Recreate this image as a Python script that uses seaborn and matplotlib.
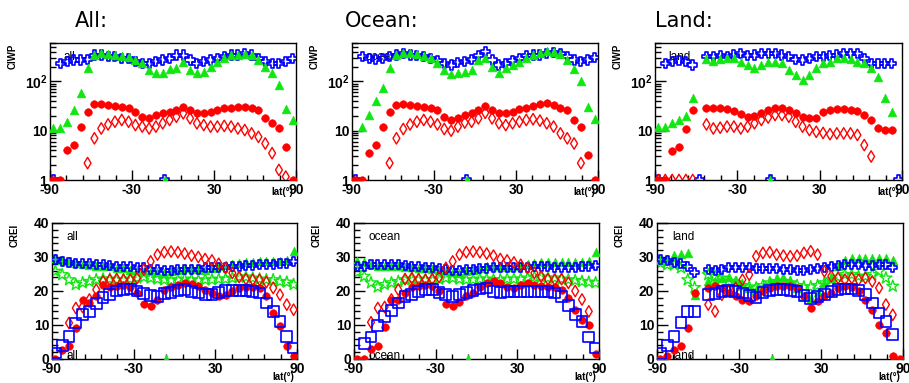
import numpy as np
import pandas as pd
import matplotlib
matplotlib.use("Agg")
import matplotlib.pyplot as plt
import seaborn as sns
from matplotlib.ticker import FixedLocator, MultipleLocator, LogLocator, NullFormatter, FixedFormatter

NA = np.nan

# latitude bin centres (degrees)
LAT = [-87.5, -82.5, -77.5, -72.5, -67.5, -62.5, -57.5, -52.5, -47.5, -42.5,
       -37.5, -32.5, -27.5, -22.5, -17.5, -12.5, -7.5, -2.5, 2.5, 7.5,
       12.5, 17.5, 22.5, 27.5, 32.5, 37.5, 42.5, 47.5, 52.5, 57.5,
       62.5, 67.5, 72.5, 77.5, 82.5, 87.5]

PANEL_TITLES = ["All:", "Ocean:", "Land:"]
PANEL_TAGS = ["all", "ocean", "land"]
X_TICKS = [-90, -30, 30, 90]
CIWP_TICKS = [1, 10, 100]
CIWP_TICK_LABELS = ["1", "10", r"$\mathbf{10^{2}}$"]
CREI_TICKS = [0, 10, 20, 30, 40]
FLOOR_GREEN_LAT = [-6.0]

# ---------------- CIWP (top row, log scale) ----------------
all_ciwp_cross = [1, 232, 251, 271, 271, 280, 342, 342, 316, 316, 293, 293, 251, 232, 232, 251, 271, 293,
                  342, 342, 271, 232, 251, 271, 293, 316, 342, 342, 370, 342, 293, 251, 232, 232, 251, 293]
all_ciwp_tri = [11.1, 11.1, 15, 26, 57, 184, 342, 370, 361, 342, 330, 305, 271, 232, 170, 145, 145, 175,
                184, 251, 170, 145, 157, 198, 251, 293, 342, 342, 361, 342, 271, 198, 145, 84, 28, 16.5]
all_ciwp_dot = [1, 1, 4.0, 5.1, 12, 24.3, 35, 35, 33, 31.5, 30.7, 28.4, 24.3, 19.2, 17.8, 20.8, 22.5, 24.3,
                26.3, 30.7, 26.3, 22.5, 22.5, 24.3, 26.3, 28.4, 29.5, 30.7, 30.7, 29.5, 26.3, 17.8, 14, 11.1, 4.7, 1]
all_ciwp_dia = [NA, NA, NA, NA, NA, 2.2, 7.0, 11.1, 13.4, 15.2, 16.5, 15.2, 13.0, 12.1, 11.1, 12.1, 14.1, 16.5,
                19.2, 22.5, 17.8, 14.1, 13.0, 12.1, 12.1, 12.5, 12.1, 11.1, 10.3, 8.8, 7.5, 5.5, 3.5, 1.6, 1.17, NA]

ocean_ciwp_cross = [1, 316, 293, 280, 293, 316, 342, 361, 342, 330, 316, 293, 260, 232, 215, 240, 251, 280,
                    330, 400, 271, 215, 232, 260, 293, 330, 342, 342, 361, 380, 361, 316, 271, 251, 271, 305]
ocean_ciwp_tri = [NA, 11.7, 20.8, 40.5, 72, 184, 342, 380, 370, 361, 330, 293, 232, 170, 140, 150, 157, 170,
                  271, 293, 198, 150, 184, 215, 251, 293, 342, 380, 418, 400, 361, 270, 175, 104, 30, 17]
ocean_ciwp_dot = [1, 1, 3.6, 5.1, 12, 24.3, 33, 35, 33, 31.5, 30.7, 29.5, 26.3, 19.2, 16.5, 18.5, 20.8, 22.5,
                  26.3, 31.5, 26.3, 22.5, 22.5, 24.3, 27.3, 29.5, 31.5, 34.8, 35.8, 33, 28.4, 26.3, 16.5, 12.1, 3.2, 1]
ocean_ciwp_dia = [NA, NA, NA, NA, NA, 2.2, 7.0, 10.8, 13.4, 15.2, 16.5, 15.2, 13.4, 10.8, 10.0, 12.1, 14.6, 15.2,
                  17.8, 23, 17.8, 14.1, 13.0, 14.1, 15.2, 16.5, 17.1, 16, 14.1, 12.1, 8.8, 7.0, 5.5, 2.2, NA, NA]

land_ciwp_cross = [1, 232, 251, 261, 251, 215, 1, 316, 316, 330, 316, 342, 361, 330, 342, 361, 370, 361,
                   342, 316, 280, 271, 293, 316, 316, 330, 342, 361, 370, 361, 293, 232, 232, 232, 232, 1]
land_ciwp_tri = [11.7, 11.7, 14.1, 16.5, 20, 45, NA, 280, 260, 280, 293, 293, 250, 215, 184, 215, 251, 251,
                 232, 170, 134, 108, 134, 184, 232, 251, 293, 293, 280, 251, 232, 184, 124, 45, 24, NA]
land_ciwp_dot = [1, 1, 3.9, 4.7, 11, 26, NA, 28.4, 28.4, 28.4, 27.3, 25, 22, 19.2, 20, 22.5, 26.3, 28.4,
                 28.4, 26.3, 22.5, 19.2, 17.8, 17.8, 24.3, 26.3, 27.3, 27.3, 26.3, 25, 21, 16.5, 11.5, 10.3, 10.3, NA]
land_ciwp_dia = [1, 1, 1, 1, 1, 1, NA, 13.4, 11.1, 11.5, 12.1, 12.1, 11.1, 12.1, 14.1, 16.5, 18.5, 20.8,
                 20.8, 19.2, 15.2, 12.1, 10.3, 9.5, 9.0, 8.5, 8.8, 8.8, 8.8, 8.2, 5.1, 3.0, NA, NA, NA, NA]

# ---------------- CREI (bottom row, linear) ----------------
all_crei_sq = [1.8, 3.9, 6.7, 10.6, 13.0, 14.0, 16.3, 18.0, 19.0, 20.0, 20.4, 20.6, 20.0, 19.2, 18.6, 18.4, 19.2, 19.6,
               20.2, 20.4, 19.9, 19.4, 18.9, 18.9, 19.6, 20.2, 20.2, 20.2, 20.2, 19.9, 19.4, 16.5, 14.0, 11.0, 6.7, 3.2]
all_crei_cross = [29.2, 28.7, 28.4, 28.2, 28.0, 28.0, 27.7, 27.7, 27.5, 27.3, 27.3, 27.1, 26.8, 26.8, 26.3, 26.3, 26.1, 26.1,
                  26.3, 26.3, 26.3, 26.3, 26.8, 26.8, 26.8, 26.8, 27.3, 27.3, 27.5, 27.5, 27.7, 27.7, 27.7, 28.0, 28.2, 28.7]
all_crei_tri = [29.7, 29.2, 28.7, 28.2, 28.0, 27.7, 27.5, 27.5, 27.3, 26.8, 26.8, 26.3, 26.1, 25.8, 25.8, 25.5, 25.3, 25.8,
                26.3, 26.8, 26.8, 26.6, 26.3, 26.8, 27.3, 27.7, 28.0, 28.2, 28.4, 28.4, 28.7, 28.7, 28.7, 28.7, 29.2, 31.7]
all_crei_star = [25.8, 24.8, 23.3, 21.9, 22.4, 22.8, 23.3, 23.5, 23.5, 23.3, 23.3, 23.5, 23.8, 24.1, 23.8, 23.5, 23.3, 23.1,
                 23.3, 23.5, 23.3, 23.1, 23.3, 23.3, 23.5, 23.5, 23.8, 24.1, 24.1, 23.8, 23.5, 23.3, 23.3, 22.8, 22.6, 21.9]
all_crei_dot = [0, 2.7, 3.7, 9.1, 17.5, 16.5, 18.4, 21.9, 21.2, 21.6, 21.9, 21.2, 19.4, 16.3, 15.7, 17.5, 20.4, 21.2,
                21.9, 22.4, 22.2, 21.6, 20.4, 19.4, 18.4, 18.9, 19.9, 20.9, 21.2, 21.2, 20.9, 18.4, 13.5, 9.6, 3.7, 0.8]
all_crei_dia = [NA, NA, 10.6, 15.0, 15.3, 17.5, 20.4, 22.8, 23.3, 23.5, 23.3, 23.3, 23.8, 26.3, 28.7, 30.7, 31.4, 31.6,
                31.4, 31.0, 30.4, 30.0, 29.4, 29.0, 28.0, 26.8, 25.3, 24.1, 23.5, 23.3, 23.3, 22.6, 20.9, 18.9, 16.0, 14.5]

ocean_crei_sq = [NA, 4.5, 6.5, 9.8, 12.4, 14.3, 16.5, 18.4, 18.9, 19.9, 20.4, 20.4, 19.6, 18.9, 18.4, 18.9, 19.6, 20.2,
                 20.6, 20.9, 19.9, 19.6, 19.9, 19.9, 19.9, 19.9, 19.9, 19.9, 19.9, 19.4, 18.4, 15.7, 13.0, 11.1, 6.5, 3.2]
ocean_crei_cross = [27.3, 27.3, 27.7, 27.7, 27.7, 27.7, 27.7, 27.5, 27.3, 27.3, 27.0, 26.8, 26.6, 26.3, 26.1, 26.1, 26.3, 26.3,
                    26.6, 26.6, 26.8, 26.8, 26.8, 27.0, 27.0, 27.0, 27.3, 27.3, 27.3, 27.0, 27.0, 27.0, 27.0, 27.3, 27.3, 27.5]
ocean_crei_tri = [28.7, 28.4, 28.0, 27.5, 27.3, 27.3, 27.3, 27.0, 27.0, 26.8, 26.8, 26.6, 26.3, 25.8, 25.5, 25.3, 25.8, 26.3,
                  26.8, 27.3, 27.3, 27.3, 27.0, 27.3, 27.7, 28.0, 28.2, 28.4, 28.4, 28.4, 28.4, 28.4, 28.4, 28.4, 28.7, 31.4]
ocean_crei_star = [25.5, 24.3, 22.4, 21.2, 21.9, 22.4, 22.8, 23.3, 23.5, 23.5, 23.3, 23.3, 23.5, 23.8, 23.8, 23.5, 23.3, 23.3,
                   23.5, 23.5, 23.3, 23.3, 23.5, 23.5, 23.5, 23.8, 24.1, 24.1, 23.8, 23.8, 23.5, 23.3, 23.1, 22.8, 22.6, 22.4]
ocean_crei_dot = [0, 0, 3.0, 3.7, 9.5, 17.5, 17.5, 19.5, 21.2, 21.6, 21.9, 21.6, 20.0, 16.3, 15.5, 16.8, 18.5, 19.5,
                  21.2, 22.4, 22.8, 22.4, 21.2, 20.9, 21.9, 22.4, 21.9, 21.6, 21.2, 21.2, 20.4, 18.0, 14.5, 11.5, 10.0, 1.5]
ocean_crei_dia = [NA, NA, 10.8, 15.0, 15.3, 17.5, 20.4, 23.5, 23.8, 23.5, 23.3, 23.5, 24.1, 26.8, 28.7, 30.7, 31.4, 31.6,
                  31.4, 31.0, 30.4, 29.4, 29.0, 28.4, 27.7, 26.8, 25.3, 24.3, 23.5, 23.3, 23.5, 22.4, 20.0, 17.5, 14.0, NA]

land_crei_sq = [1.6, 3.9, 6.7, 10.8, 14.0, 14.0, NA, 18.9, 19.2, 19.9, 20.2, 19.9, 19.4, 18.6, 18.1, 19.6, 20.2, 20.4,
                20.4, 20.2, 19.9, 18.6, 17.9, 18.4, 18.9, 19.9, 20.4, 20.6, 20.6, 20.2, 18.9, 16.5, 13.5, 11.0, 7.2, NA]
land_crei_cross = [29.2, 29.0, 28.4, 28.0, 27.3, 25.5, NA, 26.3, 26.1, 26.3, 26.8, 26.8, 26.8, 26.8, 26.6, 26.6, 26.6, 26.6,
                   26.3, 26.3, 26.1, 26.1, 26.3, 26.6, 26.8, 27.3, 27.5, 27.7, 27.7, 27.7, 27.5, 27.5, 27.7, 27.7, 26.8, NA]
land_crei_tri = [29.2, 29.4, 30.7, 31.0, 31.2, 18.8, NA, 22.8, 22.8, 23.8, 24.1, 23.3, 21.9, 20.9, 20.4, 21.6, 22.8, 23.8,
                 24.1, 23.3, 20.9, 18.4, 17.9, 19.6, 22.4, 23.8, 27.3, 29.2, 29.7, 29.7, 29.7, 29.7, 29.7, 29.7, 29.2, NA]
land_crei_star = [28.2, 27.7, 27.7, 26.8, 23.3, 21.0, NA, 24.8, 24.3, 23.8, 22.8, 22.4, 21.6, 21.2, 20.9, 21.6, 22.4, 22.8,
                  22.8, 22.4, 21.6, 21.2, 21.2, 21.6, 22.4, 23.3, 24.1, 24.8, 24.8, 24.3, 24.3, 24.8, 25.8, 23.8, 21.4, NA]
land_crei_dot = [0, 0.8, 2.7, 3.7, 9.1, 19.4, NA, 20.9, 21.4, 20.9, 19.4, 18.4, 17.5, 17.0, 18.4, 19.9, 20.9, 21.4,
                 21.6, 21.4, 20.9, 18.4, 15.0, 17.0, 18.4, 19.4, 20.9, 21.6, 21.2, 19.9, 17.5, 14.5, 10.1, 7.6, 0.8, 0]
land_crei_dia = [NA, NA, NA, NA, NA, NA, NA, 16.0, 14.0, 18.9, 19.9, 20.9, 23.3, 24.8, 30.2, 31.2, 31.4, 30.7,
                 30.4, 30.2, 30.4, 31.2, 31.7, 30.7, 25.8, 24.3, 23.8, 23.3, 23.8, 23.3, 23.8, 22.8, 20.9, 16.0, 13.0, NA]

BLUE = "#0000ff"
GREEN = "#12e612"
RED = "#ff0000"
STYLE = {
    "cross": dict(marker="P", s=44, color=BLUE, filled=False, lw=1.2),
    "tri": dict(marker="^", s=40, color=GREEN, filled=True, lw=0.4),
    "dot": dict(marker="o", s=30, color=RED, filled=True, lw=0.4),
    "dia": dict(marker="d", s=34, color=RED, filled=False, lw=1.0),
    "sq": dict(marker="s", s=60, color=BLUE, filled=False, lw=1.2),
    "star": dict(marker="*", s=80, color=GREEN, filled=False, lw=1.0),
}

sns.set_theme(style="white")
plt.rcParams["font.family"] = ["Liberation Sans", "DejaVu Sans"]
plt.rcParams["mathtext.fontset"] = "custom"
plt.rcParams["mathtext.bf"] = "Liberation Sans:bold"
plt.rcParams["mathtext.rm"] = "Liberation Sans"
plt.rcParams["axes.unicode_minus"] = False

W, H = 909, 383
fig = plt.figure(figsize=(W / 100, H / 100), dpi=100)
fig.patch.set_facecolor("white")


def px_axes(l, t, r, b):
    return fig.add_axes([l / W, 1 - b / H, (r - l) / W, (b - t) / H])


def draw(ax, vals, key, z, lat=None):
    st = STYLE[key]
    df = pd.DataFrame({"lat": LAT if lat is None else lat, "v": vals}).dropna()
    sns.scatterplot(data=df, x="lat", y="v", ax=ax, marker=st["marker"], s=st["s"],
                    color=st["color"], legend=False, zorder=z)
    coll = ax.collections[-1]
    coll.set_edgecolor(st["color"])
    coll.set_linewidth(st["lw"])
    if not st["filled"]:
        coll.set_facecolor("none")


def style_axes(ax):
    for sp in ax.spines.values():
        sp.set_visible(True)
        sp.set_color("black")
        sp.set_linewidth(1.0)
    ax.set_xlim(-90, 90)
    ax.xaxis.set_major_locator(FixedLocator(X_TICKS))
    ax.xaxis.set_minor_locator(MultipleLocator(12, offset=6))
    ax.tick_params(axis="both", which="both", direction="in", top=False, right=False,
                   bottom=True, left=True, colors="black")
    ax.tick_params(axis="x", which="major", length=7, width=1, pad=2)
    ax.tick_params(axis="x", which="minor", length=3.5, width=1)
    ax.tick_params(axis="y", which="major", length=8, width=1, pad=2)
    ax.tick_params(axis="y", which="minor", length=4, width=1)
    for lab in ax.get_xticklabels() + ax.get_yticklabels():
        lab.set_fontweight("bold")
        lab.set_fontsize(10)
        lab.set_color("black")
    ax.set_xlabel("")
    ax.set_ylabel("")


cols = [(50, 296), (352, 598), (655, 902)]
title_x = [75, 345, 655]
top_data = [
    (all_ciwp_cross, all_ciwp_tri, all_ciwp_dot, all_ciwp_dia),
    (ocean_ciwp_cross, ocean_ciwp_tri, ocean_ciwp_dot, ocean_ciwp_dia),
    (land_ciwp_cross, land_ciwp_tri, land_ciwp_dot, land_ciwp_dia),
]
bot_data = [
    (all_crei_star, all_crei_tri, all_crei_cross, all_crei_dia, all_crei_dot, all_crei_sq),
    (ocean_crei_star, ocean_crei_tri, ocean_crei_cross, ocean_crei_dia, ocean_crei_dot, ocean_crei_sq),
    (land_crei_star, land_crei_tri, land_crei_cross, land_crei_dia, land_crei_dot, land_crei_sq),
]

for k, (l, r) in enumerate(cols):
    # ---- top: CIWP ----
    ax = px_axes(l, 43, r, 180)
    ax.set_facecolor("white")
    cross, tri, dot, dia = top_data[k]
    draw(ax, cross, "cross", 2)
    draw(ax, [1.0] * len(FLOOR_GREEN_LAT), "cross", 2, lat=FLOOR_GREEN_LAT)
    draw(ax, tri, "tri", 3)
    draw(ax, [1.0] * len(FLOOR_GREEN_LAT), "tri", 3, lat=FLOOR_GREEN_LAT)
    draw(ax, dot, "dot", 4)
    draw(ax, dia, "dia", 5)
    ax.set_yscale("log")
    ax.set_ylim(1, 600)
    ax.yaxis.set_major_locator(FixedLocator(CIWP_TICKS))
    ax.yaxis.set_major_formatter(FixedFormatter(CIWP_TICK_LABELS))
    ax.yaxis.set_minor_locator(LogLocator(base=10, subs=np.arange(2, 10)))
    ax.yaxis.set_minor_formatter(NullFormatter())
    style_axes(ax)
    ax.text(0.055, 0.90, PANEL_TAGS[k], transform=ax.transAxes, fontsize=8.5,
            ha="left", va="center", color="black", zorder=1)

    # ---- bottom: CREI ----
    bx = px_axes(l + 2, 223, r + 1, 359)
    bx.set_facecolor("white")
    star, btri, bcross, bdia, bdot, bsq = bot_data[k]
    draw(bx, star, "star", 2)
    draw(bx, btri, "tri", 3)
    draw(bx, [0.0] * len(FLOOR_GREEN_LAT), "tri", 3, lat=FLOOR_GREEN_LAT)
    draw(bx, bcross, "cross", 4)
    draw(bx, bdia, "dia", 5)
    draw(bx, bdot, "dot", 6)
    draw(bx, bsq, "sq", 7)
    bx.set_ylim(0, 40)
    bx.yaxis.set_major_locator(FixedLocator(CREI_TICKS))
    bx.yaxis.set_minor_locator(MultipleLocator(2))
    style_axes(bx)
    bx.text(0.06, 0.90, PANEL_TAGS[k], transform=bx.transAxes, fontsize=8.5,
            ha="left", va="center", color="black", zorder=1)
    bx.text(0.06, 0.02, PANEL_TAGS[k], transform=bx.transAxes, fontsize=8.5,
            ha="left", va="center", color="black", zorder=1, clip_on=True)

    # titles and axis labels
    fig.text(title_x[k] / W, 1 - 21 / H, PANEL_TITLES[k], fontsize=15, ha="left",
             va="center", family=["DejaVu Sans"], color="black")
    fig.text((l - 37) / W, 1 - 44 / H, "CIWP", rotation=90, fontsize=7, fontweight="bold",
             ha="center", va="top", color="black")
    fig.text((l - 35) / W, 1 - 224 / H, "CREI", rotation=90, fontsize=7, fontweight="bold",
             ha="center", va="top", color="black")
    fig.text((r - 14) / W, 1 - 187 / H, "lat(°)", fontsize=7, fontweight="bold",
             ha="center", va="top", color="black")
    fig.text((r - 13) / W, 1 - 372 / H, "lat(°)", fontsize=7, fontweight="bold",
             ha="center", va="top", color="black")

fig.savefig("out.png", dpi=100, facecolor="white")
